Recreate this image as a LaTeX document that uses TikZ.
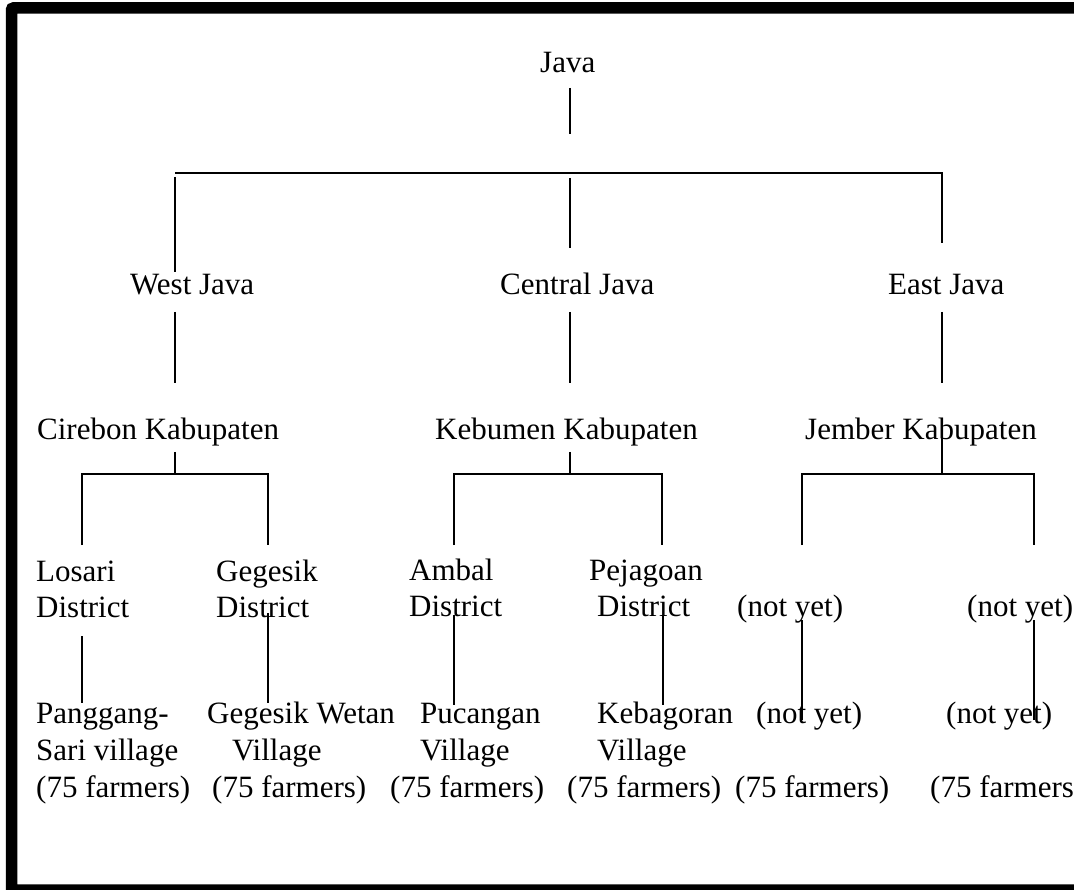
\documentclass[tikz,border=0pt]{standalone}
\usepackage{fontspec}
\setmainfont{Liberation Serif}
\begin{document}
\begin{tikzpicture}[x=1pt,y=-1pt,
  lbl/.style={anchor=base west, inner sep=0pt, font=\fontsize{31}{37}\selectfont},
  conn/.style={line width=1.4pt},
  frame/.style={line width=11.5pt, rounded corners=2pt}]
\useasboundingbox (0,0) rectangle (1074,890);
\clip (0,0) rectangle (1074,890);
\draw[frame] (11.5,8) rectangle (1110,890);

% level 0
\node[lbl] (java) at (540,73) {Java};
% level 1
\node[lbl] (west) at (130,295) {West Java};
\node[lbl] (central) at (500,295) {Central Java};
\node[lbl] (east) at (888,295) {East Java};
% level 2
\node[lbl] (cirebon) at (37,440) {Cirebon Kabupaten};
\node[lbl] (kebumen) at (435,440) {Kebumen Kabupaten};
\node[lbl] (jember) at (805,440) {Jember Kabupaten};
% level 3
\node[lbl] (losari) at (36,581) {Losari};
\node[lbl] (losariB) at (36,617) {District};
\node[lbl] (gegesik) at (216,581) {Gegesik};
\node[lbl] (gegesikB) at (216,617) {District};
\node[lbl] (ambal) at (409,580) {Ambal};
\node[lbl] (ambalB) at (409,616) {District};
\node[lbl] (pejagoan) at (589,580) {Pejagoan};
\node[lbl] (pejagoanB) at (597,616) {District};
\node[lbl] (ny1) at (737,616) {(not yet)};
\node[lbl] (ny2) at (967,616) {(not yet)};
% level 4
\node[lbl] (pang) at (36,723) {Panggang-};
\node[lbl] (pangB) at (36,760) {Sari village};
\node[lbl] (pangC) at (36,797) {(75 farmers)};
\node[lbl] (wetan) at (207,723) {Gegesik Wetan};
\node[lbl] (wetanB) at (232,760) {Village};
\node[lbl] (wetanC) at (212,797) {(75 farmers)};
\node[lbl] (puc) at (420,723) {Pucangan};
\node[lbl] (pucB) at (420,760) {Village};
\node[lbl] (pucC) at (390,797) {(75 farmers)};
\node[lbl] (keb) at (597,723) {Kebagoran};
\node[lbl] (kebB) at (597,760) {Village};
\node[lbl] (kebC) at (567,797) {(75 farmers)};
\node[lbl] (ny3) at (756,723) {(not yet)};
\node[lbl] (ny3C) at (735,797) {(75 farmers)};
\node[lbl] (ny4) at (946,723) {(not yet)};
\node[lbl] (ny4C) at (930,797) {(75 farmers)};

% junction coordinates
\coordinate (j0a) at (570,88);  \coordinate (j0b) at (570,134);
\coordinate (barL) at (175,173); \coordinate (barR) at (942,173);
\coordinate (wTop) at (175,177); \coordinate (wBot) at (175,272);
\coordinate (cTop) at (570,178); \coordinate (cBot) at (570,248);
\coordinate (eBot) at (942,243);
\coordinate (w1) at (175,312); \coordinate (w2) at (175,383);
\coordinate (c1) at (570,312); \coordinate (c2) at (570,383);
\coordinate (e1) at (942,312); \coordinate (e2) at (942,383);
% Cirebon fork
\coordinate (ci1) at (175,452); \coordinate (ci2) at (175,474);
\coordinate (ciL) at (82,474);  \coordinate (ciR) at (268,474);
\coordinate (ciLb) at (82,545); \coordinate (ciRb) at (268,545);
% Kebumen fork
\coordinate (ke1) at (570,452); \coordinate (ke2) at (570,474);
\coordinate (keL) at (454,474); \coordinate (keR) at (662,474);
\coordinate (keLb) at (454,545); \coordinate (keRb) at (662,545);
% Jember fork
\coordinate (je1) at (942,433); \coordinate (je2) at (942,474);
\coordinate (jeL) at (802,474); \coordinate (jeR) at (1034,474);
\coordinate (jeLb) at (802,545); \coordinate (jeRb) at (1034,545);
% level 3 -> 4
\coordinate (l1) at (82,636);  \coordinate (l2) at (82,703);
\coordinate (g1) at (268,613); \coordinate (g2) at (268,703);
\coordinate (a1) at (454,615); \coordinate (a2) at (454,705);
\coordinate (p1) at (663,615); \coordinate (p2) at (663,705);
\coordinate (n1) at (802,620); \coordinate (n2) at (802,720);
\coordinate (m1) at (1034,620); \coordinate (m2) at (1034,720);

\draw[conn] (j0a) -- (j0b);
\draw[conn] (barL) -- (barR) -- (eBot);
\draw[conn] (wTop) -- (wBot);
\draw[conn] (cTop) -- (cBot);
\draw[conn] (w1) -- (w2);
\draw[conn] (c1) -- (c2);
\draw[conn] (e1) -- (e2);
\draw[conn] (ci1) -- (ci2);
\draw[conn] (ciLb) -- (ciL) -- (ciR) -- (ciRb);
\draw[conn] (ke1) -- (ke2);
\draw[conn] (keLb) -- (keL) -- (keR) -- (keRb);
\draw[conn] (je1) -- (je2);
\draw[conn] (jeLb) -- (jeL) -- (jeR) -- (jeRb);
\draw[conn] (l1) -- (l2);
\draw[conn] (g1) -- (g2);
\draw[conn] (a1) -- (a2);
\draw[conn] (p1) -- (p2);
\draw[conn] (n1) -- (n2);
\draw[conn] (m1) -- (m2);
\end{tikzpicture}
\end{document}
